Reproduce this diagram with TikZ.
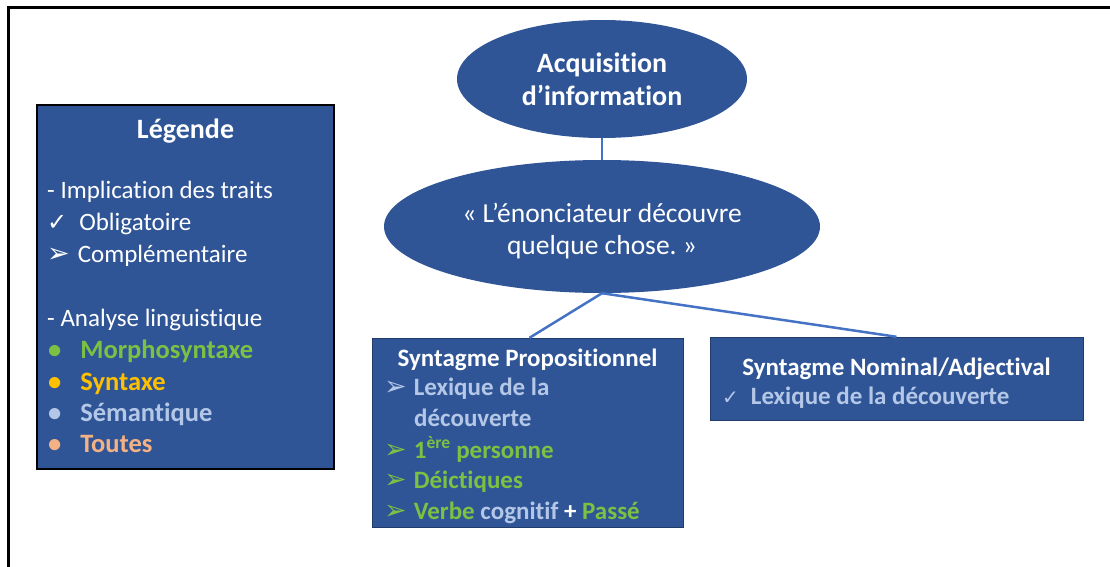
\documentclass[tikz,border=0pt]{standalone}
\usepackage{fontspec}
\setmainfont{Carlito}[Ligatures=NoCommon]
\newfontfamily\dejavu{DejaVu Sans}
\usetikzlibrary{shapes.geometric}
\frenchspacing

\definecolor{boxblue}{RGB}{47,85,151}
\definecolor{linkblue}{RGB}{68,114,196}
\definecolor{morphogreen}{RGB}{124,194,66}
\definecolor{syntaxgold}{RGB}{255,192,0}
\definecolor{semgrey}{RGB}{180,199,231}
\definecolor{toutespeach}{RGB}{244,177,131}

\newcommand{\chk}[1][24]{{\dejavu\mdseries\fontsize{#1}{24}\selectfont ✓}}
\newcommand{\arw}{{\dejavu\mdseries\fontsize{27}{24}\selectfont ➢}}

\tikzset{
  bluebox/.style={draw=boxblue!70!black,fill=boxblue,inner sep=0pt},
  blueoval/.style={ellipse,fill=boxblue,inner sep=0pt},
  link/.style={draw=linkblue,line width=2.5pt},
  txt/.style={text=white,inner sep=0pt,anchor=base west,font=\fontsize{25}{30}\selectfont},
  btxt/.style={txt,font=\fontsize{25}{30}\selectfont\bfseries},
  bigtxt/.style={txt,anchor=base,font=\fontsize{28}{32}\selectfont\bfseries},
  legtxt/.style={txt,font=\fontsize{26.5}{30}\selectfont\bfseries},
}

\begin{document}
\begin{tikzpicture}[x=1pt,y=-1pt]
  \useasboundingbox (0,0) rectangle (1110,567);
  \draw[line width=3pt] (1110,8) -- (8,8) -- (8,567);   % outer frame, top and left

  % legend
  \node[bluebox,draw=black,line width=1.5pt,minimum width=297pt,minimum height=364pt] (legende) at (185.5,287) {};
  \node[bigtxt] (legtitle) at (185.5,139) {Légende};
  \node[txt] (impl) at (47,198) {- Implication des traits};
  \node[txt] (oblig) at (47,230) {\chk\hspace{12pt}Obligatoire};
  \node[txt] (compl) at (47,262) {\arw\hspace{8pt}Complémentaire};
  \node[txt] (analyse) at (47,326) {- Analyse linguistique};
  \node[legtxt,text=morphogreen] (morpho) at (48,358) {\textbullet\hspace{19pt}Morphosyntaxe};
  \node[legtxt,text=syntaxgold] (syntaxe) at (48,390) {\textbullet\hspace{19pt}Syntaxe};
  \node[legtxt,text=semgrey] (seman) at (48,421) {\textbullet\hspace{19pt}Sémantique};
  \node[legtxt,text=toutespeach] (toutes) at (48,452) {\textbullet\hspace{19pt}Toutes};

  % ellipses
  \node[blueoval,minimum width=290pt,minimum height=118pt] (acq) at (602,79) {};
  \node[bigtxt] (acqa) at (602,73) {Acquisition};
  \node[bigtxt] (acqb) at (602,106) {d’information};
  \node[blueoval,minimum width=436pt,minimum height=133pt] (enon) at (602,226.5) {};
  \node[txt,anchor=base,font=\fontsize{27.5}{32}\selectfont] (enona) at (602,222) {« L’énonciateur découvre};
  \node[txt,anchor=base,font=\fontsize{27.5}{32}\selectfont] (enonb) at (602,254) {quelque chose. »};

  % boxes
  \node[bluebox,minimum width=311pt,minimum height=189pt] (prop) at (527.5,432.5) {};
  \node[btxt,anchor=base] (proptitle) at (527.5,366) {Syntagme Propositionnel};
  \node[btxt,text=semgrey] (lexa) at (384,395) {\arw\hspace{7pt}Lexique de la};
  \node[btxt,text=semgrey] (lexb) at (414,426) {découverte};
  \node[btxt,text=morphogreen] (pers) at (384,458) {\arw\hspace{7pt}1\textsuperscript{ère} personne};
  \node[btxt,text=morphogreen] (deic) at (384,488) {\arw\hspace{7pt}Déictiques};
  \node[btxt,text=morphogreen] (verbe) at (384,519) {\arw\hspace{7pt}Verbe \textcolor{semgrey}{cognitif} \textcolor{white}{+} Passé};
  \node[bluebox,minimum width=373pt,minimum height=83pt] (nomi) at (896.5,378.5) {};
  \node[btxt,anchor=base] (nomititle) at (896.5,375) {Syntagme Nominal/Adjectival};
  \node[btxt,text=semgrey] (nomilex) at (722,404) {\chk[20]\hspace{12pt}Lexique de la découverte};

  % connectors
  \draw[link] (acq.south) -- (enon.north);
  \draw[link] (enon.south) -- ([xshift=2pt]prop.north);
  \draw[link] (enon.south) -- (nomi.north);
\end{tikzpicture}
\end{document}
